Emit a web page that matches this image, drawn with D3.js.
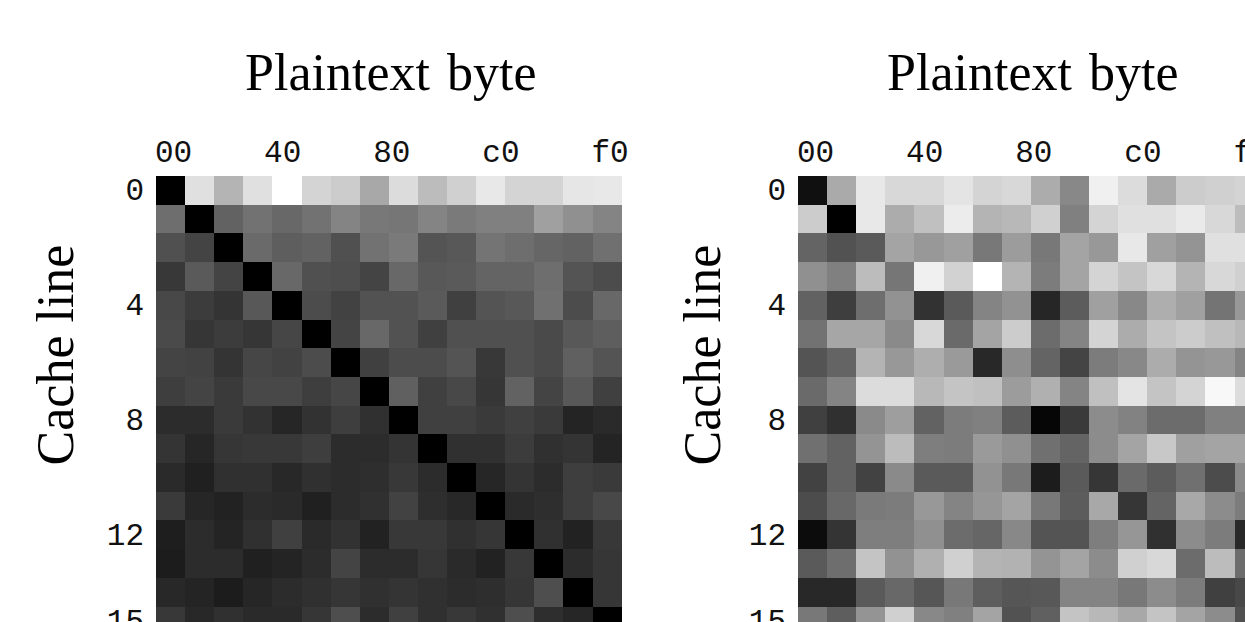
<!DOCTYPE html>
<html>
<head>
<meta charset="utf-8">
<script src="https://cdn.jsdelivr.net/npm/d3@7"></script>
<style>
  html, body { margin: 0; padding: 0; background: #fff; overflow: hidden; }
</style>
</head>
<body>
<div id="chart"></div>
<script>
// leakage score per (cache line, plaintext byte block); 255 = black, 0 = white
var scoresLeft = [
  [255, 31, 75, 31, 0, 43, 51, 87, 35, 67, 47, 23, 43, 43, 25, 23],
  [145, 255, 157, 141, 151, 141, 123, 135, 137, 123, 133, 127, 127, 95, 111, 123],
  [175, 187, 255, 149, 161, 157, 175, 141, 133, 171, 167, 139, 145, 153, 157, 143],
  [199, 165, 187, 255, 151, 175, 177, 187, 151, 167, 165, 155, 155, 145, 171, 179],
  [183, 195, 203, 167, 255, 179, 189, 173, 173, 165, 191, 171, 167, 143, 179, 151],
  [181, 201, 195, 201, 185, 255, 187, 151, 173, 191, 175, 175, 175, 181, 167, 161],
  [187, 189, 203, 185, 189, 179, 255, 191, 179, 179, 171, 199, 175, 181, 159, 171],
  [193, 187, 197, 183, 183, 193, 185, 255, 159, 191, 183, 201, 157, 187, 167, 191],
  [211, 211, 197, 205, 217, 205, 193, 207, 255, 191, 191, 197, 191, 197, 219, 213],
  [203, 217, 201, 199, 199, 193, 211, 211, 203, 255, 207, 207, 195, 207, 203, 219],
  [213, 223, 207, 207, 215, 207, 211, 209, 199, 211, 255, 217, 203, 211, 193, 197],
  [197, 217, 221, 211, 213, 223, 211, 207, 189, 209, 215, 255, 213, 209, 193, 183],
  [225, 211, 219, 207, 191, 213, 205, 221, 199, 199, 207, 201, 255, 207, 221, 199],
  [227, 211, 211, 223, 219, 211, 187, 211, 211, 201, 213, 221, 199, 255, 211, 201],
  [215, 219, 227, 217, 211, 207, 201, 207, 203, 207, 211, 209, 201, 177, 255, 201],
  [199, 215, 207, 213, 213, 201, 177, 211, 191, 207, 199, 207, 177, 209, 217, 255]
];

var scoresRight = [
  [239, 85, 23, 39, 39, 27, 43, 39, 83, 119, 15, 35, 85, 51, 47, 43],
  [51, 255, 23, 83, 63, 19, 75, 71, 47, 127, 43, 31, 31, 21, 39, 67],
  [155, 173, 165, 91, 103, 95, 135, 99, 135, 91, 103, 23, 95, 107, 31, 31],
  [111, 127, 67, 137, 15, 45, 0, 75, 131, 91, 43, 59, 39, 75, 39, 47],
  [157, 193, 145, 109, 205, 165, 123, 109, 217, 163, 95, 119, 81, 95, 139, 103],
  [141, 89, 89, 117, 39, 149, 91, 51, 147, 123, 43, 83, 59, 51, 63, 71],
  [171, 155, 75, 103, 81, 101, 215, 113, 155, 187, 131, 119, 83, 107, 103, 123],
  [149, 123, 35, 35, 71, 59, 63, 99, 79, 123, 63, 27, 59, 43, 7, 35],
  [191, 207, 117, 97, 157, 131, 127, 163, 249, 197, 115, 125, 147, 147, 127, 127],
  [143, 157, 107, 67, 129, 131, 101, 111, 143, 155, 115, 91, 55, 95, 91, 91],
  [189, 157, 189, 117, 165, 165, 109, 135, 227, 165, 201, 149, 163, 143, 179, 117],
  [179, 151, 133, 131, 103, 123, 105, 91, 135, 163, 87, 201, 155, 87, 115, 131],
  [243, 203, 129, 129, 111, 147, 153, 119, 171, 171, 129, 105, 207, 115, 131, 215],
  [165, 145, 59, 109, 79, 47, 75, 77, 107, 91, 115, 47, 39, 147, 67, 147],
  [215, 215, 165, 151, 169, 135, 161, 169, 167, 123, 123, 135, 115, 131, 191, 183],
  [135, 161, 107, 47, 119, 127, 91, 173, 159, 59, 71, 87, 59, 91, 115, 175]
];

var xTickLabels = ["00", "40", "80", "c0", "f0"];
var yTickValues = [0, 4, 8, 12, 15];
var xTitle = "Plaintext byte";
var yTitle = "Cache line";

var width = 1245, height = 622;
var cellW = 29.1, cellH = 28.7, gridTop = 176;

var svg = d3.select("#chart").append("svg")
    .attr("width", width)
    .attr("height", height);

var color = d3.scaleLinear().domain([0, 255]).range(["#ffffff", "#000000"]);

function style_ticks(sel) {
    sel.style("font-family", "'Liberation Mono', 'Courier New', monospace")
        .style("font-size", "31px")
        .style("fill", "#111");
}

function draw_panel(scores, x0, yLabelX) {
    var n = scores.length;
    var x = d3.scaleBand().domain(d3.range(n)).range([x0, x0 + n * cellW]).padding(0);
    var y = d3.scaleBand().domain(d3.range(n)).range([gridTop, gridTop + n * cellH]).padding(0);

    var cells = [];
    scores.forEach(function (row, i) {
        row.forEach(function (v, j) { cells.push({row: i, col: j, v: v}); });
    });

    var g = svg.append("g");
    g.selectAll("rect")
        .data(cells)
        .enter().append("rect")
        .attr("x", function (d) { return x(d.col); })
        .attr("y", function (d) { return y(d.row); })
        .attr("width", x.bandwidth() + 0.6)
        .attr("height", y.bandwidth() + 0.6)
        .attr("shape-rendering", "crispEdges")
        .style("fill", function (d) { return color(d.v); });

    // x tick labels, evenly spread above the grid
    var xt = d3.scalePoint().domain(xTickLabels).range([x0 + 17, x0 + n * cellW - 12]);
    var xAxis = svg.append("g")
        .attr("transform", "translate(0," + 162 + ")")
        .call(d3.axisTop(xt).tickSize(0).tickPadding(0));
    xAxis.select(".domain").remove();
    xAxis.selectAll("text").attr("dy", "0").call(style_ticks);

    var yAxis = svg.append("g")
        .attr("transform", "translate(" + (x0 - 12) + ",0)")
        .call(d3.axisLeft(y).tickValues(yTickValues).tickSize(0).tickPadding(0));
    yAxis.select(".domain").remove();
    yAxis.selectAll("text").call(style_ticks);

    svg.append("text")
        .attr("x", x0 + n * cellW / 2 + 2)
        .attr("y", 90)
        .attr("text-anchor", "middle")
        .style("font-family", "'Liberation Serif', 'Times New Roman', serif")
        .style("font-size", "52px")
        .style("word-spacing", "4px")
        .text(xTitle);

    svg.append("text")
        .attr("transform", "translate(" + yLabelX + "," + 355 + ") rotate(-90)")
        .attr("text-anchor", "middle")
        .style("font-family", "'Liberation Serif', 'Times New Roman', serif")
        .style("font-size", "52px")
        .text(yTitle);
}

draw_panel(scoresLeft, 156, 73);
draw_panel(scoresRight, 798, 720);
</script>
</body>
</html>
